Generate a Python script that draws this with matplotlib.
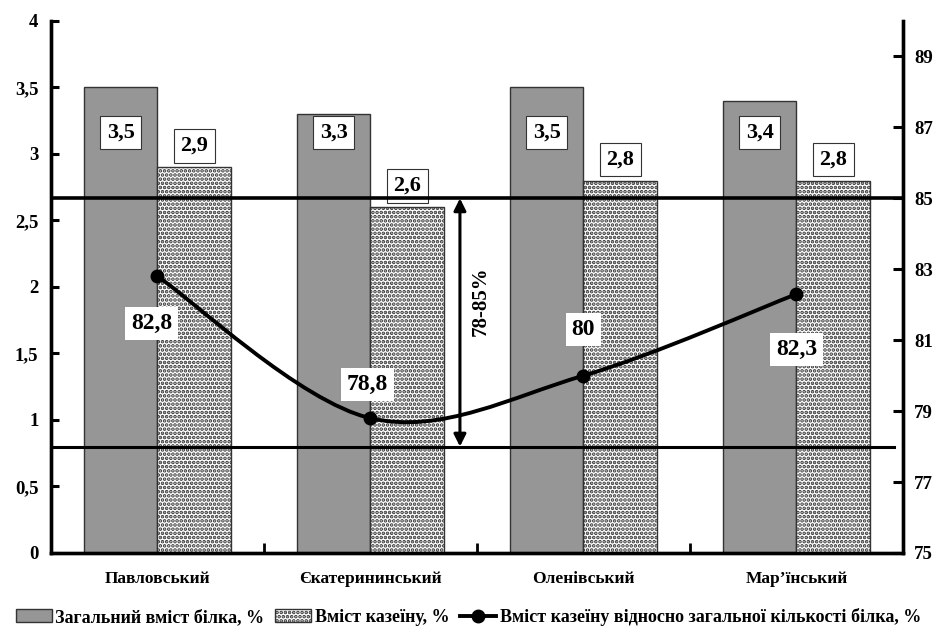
import matplotlib
matplotlib.use("Agg")
import matplotlib.pyplot as plt
from matplotlib.path import Path
from matplotlib.patches import PathPatch, Patch
from matplotlib.lines import Line2D
from matplotlib.ticker import FuncFormatter, FixedLocator
import numpy as np

categories = ["Павловський", "Єкатерининський", "Оленівський", "Мар’їнський"]
total_protein = [3.5, 3.3, 3.5, 3.4]
casein = [2.9, 2.6, 2.8, 2.8]
casein_ratio = [82.8, 78.8, 80.0, 82.3]
norm_low, norm_high = 78, 85
series_names = ["Загальний вміст білка, %", "Вміст казеїну, %",
                "Вміст казеїну відносно загальної кількості білка, %"]
norm_text = "78-85%"

plt.rcParams['font.family'] = ['Liberation Serif', 'DejaVu Serif']
plt.rcParams['font.weight'] = 'bold'
plt.rcParams['hatch.color'] = '#707070'
plt.rcParams['hatch.linewidth'] = 1.8

fig = plt.figure(figsize=(9.37, 6.34), dpi=100)
ax = fig.add_axes([0.0544, 0.1278, 0.9093, 0.8391])
ax2 = ax.twinx()

x = np.arange(len(categories))
w = 0.345
ax.bar(x - w / 2, total_protein, w, color='#969696', edgecolor='#333333', linewidth=1.0, zorder=2)
ax.bar(x + w / 2, casein, w, color='white', edgecolor='#333333', linewidth=1.0,
       hatch='....', zorder=2)

ax.set_xlim(-0.5, len(categories) - 0.5)
ax.set_ylim(0, 4)
ax2.set_ylim(75, 90)

fmt = FuncFormatter(lambda v, p: ('%g' % v).replace('.', ','))
ax.yaxis.set_major_locator(FixedLocator(np.arange(0, 4.01, 0.5)))
ax.yaxis.set_major_formatter(fmt)
ax2.yaxis.set_major_locator(FixedLocator(np.arange(75, 90, 2)))
ax2.yaxis.set_major_formatter(fmt)

ax.xaxis.set_major_locator(FixedLocator(x[:-1] + 0.5))
ax.xaxis.set_major_formatter(FuncFormatter(lambda v, p: ''))
ax.xaxis.set_minor_locator(FixedLocator(x))
ax.set_xticklabels(categories, minor=True)
ax.tick_params(axis='x', which='major', direction='in', length=7, width=2)
ax.tick_params(axis='x', which='minor', length=0, pad=13, labelsize=12.5)
ax.tick_params(axis='y', direction='in', length=6, width=2.2, labelsize=13.5, pad=9)
ax2.tick_params(axis='y', direction='in', length=7, width=2.2, labelsize=13.5, pad=8)

for a in (ax, ax2):
    a.spines['top'].set_visible(False)
    for s in ('left', 'right', 'bottom'):
        a.spines[s].set_linewidth(2.4)

# norm lines
ax2.axhline(norm_high, color='black', lw=2.6, zorder=3)
ax2.axhline(norm_low, xmin=0, xmax=0.99, color='black', lw=2.2, zorder=3)

# smooth line (Catmull-Rom / Excel-like bezier)
pts = np.column_stack([x, casein_ratio]).astype(float)
verts = [tuple(pts[0])]
codes = [Path.MOVETO]
n = len(pts)
for i in range(n - 1):
    p0 = pts[i - 1] if i > 0 else pts[i]
    p1 = pts[i]
    p2 = pts[i + 1]
    p3 = pts[i + 2] if i + 2 < n else pts[i + 1]
    c1 = p1 + (p2 - p0) / 6
    c2 = p2 - (p3 - p1) / 6
    verts += [tuple(c1), tuple(c2), tuple(p2)]
    codes += [Path.CURVE4] * 3
ax2.add_patch(PathPatch(Path(verts, codes), facecolor='none', edgecolor='black', lw=2.8, zorder=4))
ax2.plot(x, casein_ratio, 'o', color='black', ms=9, zorder=5)

# bar labels
box_style = dict(boxstyle='square,pad=0.3', fc='white', ec='#333333', lw=0.8)
for xi, v in zip(x, total_protein):
    ax.text(xi - w / 2, 3.16, ('%g' % v).replace('.', ','), ha='center', va='center',
            fontsize=16, bbox=box_style, zorder=6)
for xi, v in zip(x, casein):
    ax.text(xi + w / 2, v + 0.16, ('%g' % v).replace('.', ','), ha='center', va='center',
            fontsize=16, bbox=box_style, zorder=6)

# line labels
offsets = [(-4, -34), (-2, 24), (0, 33), (0, -40)]
for xi, v, off in zip(x, casein_ratio, offsets):
    ax2.annotate(('%g' % v).replace('.', ','), (xi, v), xytext=off, textcoords='offset points',
                 ha='center', va='center', fontsize=17,
                 bbox=dict(boxstyle='square,pad=0.25', fc='white', ec='none'), zorder=6)

# norm arrow
ax2.annotate('', xy=(1.42, norm_high), xytext=(1.42, norm_low),
             arrowprops=dict(arrowstyle='<|-|>', color='black', lw=2.2,
                             mutation_scale=18, shrinkA=0, shrinkB=0), zorder=6)
ax2.text(1.52, 82.1, norm_text, rotation=90, ha='center', va='center', fontsize=15)

handles = [Patch(facecolor='#969696', edgecolor='#333333'),
           Patch(facecolor='white', edgecolor='#333333', hatch='....'),
           Line2D([], [], color='black', lw=2.8, marker='o', ms=9)]
fig.legend(handles, series_names, loc='center', bbox_to_anchor=(0.5, 0.027), ncol=3,
           frameon=False, fontsize=13, handlelength=2.0, handletextpad=0.2, columnspacing=0.6)

fig.savefig('out.png', dpi=100)
